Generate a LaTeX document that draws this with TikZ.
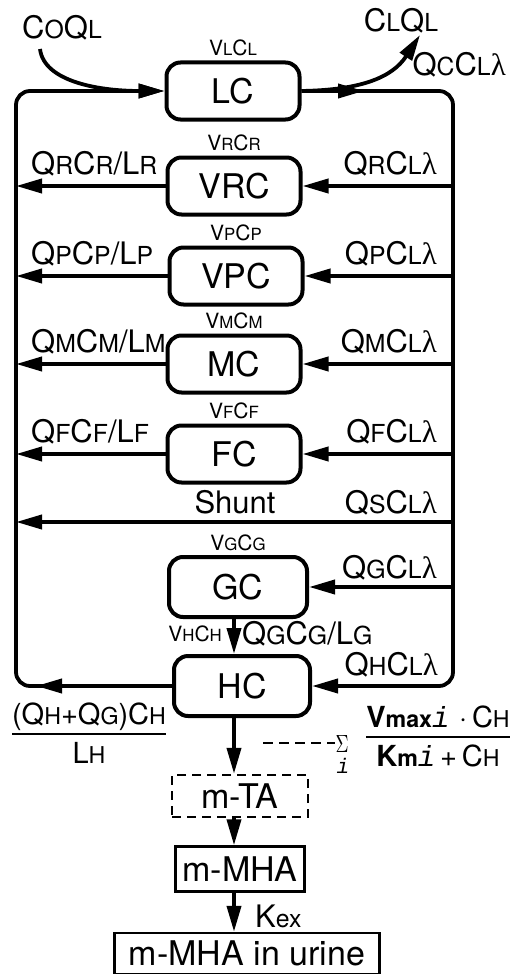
\documentclass[tikz,border=0pt]{standalone}
\usepackage{graphicx}
\usepackage{fontspec}
\setmainfont{TeX Gyre Heros}
\newfontfamily\greekf{Liberation Serif}
\newfontfamily\monof{Liberation Mono}
\usetikzlibrary{arrows.meta,calc}

\newcommand\smc[1]{\scalebox{0.8}{#1}}
\newcommand\lam{{\greekf λ}}
\newcommand\ii{{\monof\itshape i}}
\newcommand\boxfont{\fontsize{34}{36}\selectfont}
\newcommand\labfont{\fontsize{31}{33}\selectfont}
\newcommand\fracfont{\fontsize{29}{31}\selectfont}
\newcommand\volfont{\fontsize{21}{23}\selectfont}

\tikzset{
  organ/.style={draw, line width=4pt, rounded corners=14pt, minimum width=133pt,
    minimum height=57pt, font=\boxfont, inner sep=0pt},
  flow/.style={line width=3.8pt, -{Triangle[length=26pt,width=14pt]}},
  lab/.style={font=\labfont, inner sep=0pt},
  vol/.style={font=\volfont, inner sep=0pt, anchor=base},
  sq/.style={draw, line width=2.4pt, font=\boxfont, inner sep=0pt, minimum height=44pt},
}

\begin{document}
\begin{tikzpicture}[x=1pt,y=-1pt]
\useasboundingbox (0,0) rectangle (509,974);
\coordinate (L) at (16,0);
\coordinate (R) at (453,0);
\coordinate (LL) at (31,0);
\coordinate (RR) at (437,0);

% organ boxes
\node[organ] (LC) at (233,91) {LC};
\node[organ] (VRC) at (234,186) {VRC};
\node[organ] (VPC) at (236,276) {VPC};
\node[organ] (MC) at (234,364) {MC};
\node[organ] (FC) at (234,454) {FC};
\node[organ, minimum width=138pt, minimum height=60pt] (GC) at (238,587) {GC};
\node[organ, minimum width=136pt, minimum height=60pt] (HC) at (242,686) {HC};

% volume labels
\node[vol] (vLC) at ([yshift=5pt]LC.north) {V\smc{L}C\smc{L}};
\node[vol] (vRC) at ([yshift=5pt]VRC.north) {V\smc{R}C\smc{R}};
\node[vol] (vPC) at ([yshift=5pt]VPC.north) {V\smc{P}C\smc{P}};
\node[vol] (vMC) at ([yshift=5pt]MC.north) {V\smc{M}C\smc{M}};
\node[vol] (vFC) at ([yshift=5pt]FC.north) {V\smc{F}C\smc{F}};
\node[vol] (vGC) at ([yshift=5pt]GC.north) {V\smc{G}C\smc{G}};
\node[vol, anchor=base east] (vHC) at (222,641) {V\smc{H}C\smc{H}};

% main loop
\draw[flow, rounded corners=14pt] (HC.west) -- (HC.west -| L) -- (LC.west -| L) -- (LC.west);
\coordinate (hcl) at (36,686);
\draw[flow] (HC.west) -- (hcl);
\draw[flow, rounded corners=14pt] (LC.east) -- (LC.east -| R) -- (HC.east -| R) -- (HC.east);
\coordinate (lcr) at (364,91);
\draw[flow] (LC.east) -- (lcr);

% inflow / outflow at top
\node[lab, anchor=base] (co) at (62,38) {C\smc{O}Q\smc{L}};
\coordinate (coS) at (40,49);
\draw[flow] (coS) .. controls (44,82) and (100,91) .. (LC.west);
\node[lab, anchor=base] (cl) at (401,32) {C\smc{L}Q\smc{L}};
\coordinate (clE) at (420,35);
\draw[flow] (LC.east) .. controls (360,90) and (392,78) .. (clE);
\node[lab, anchor=base east] (qc) at (506,75) {Q\smc{C}C\smc{L}\lam};

% side branches
\foreach \n/\s in {VRC/R, VPC/P, MC/M, FC/F}{
  \draw[flow] (\n.west) -- (\n.west -| L);
  \draw[flow] (\n.east -| R) -- (\n.east);
  \node[lab, anchor=base west] (out\n) at ($(\n.west -| LL)+(0,-12)$) {Q\smc{\s}C\smc{\s}/L\smc{\s}};
  \node[lab, anchor=base east] (in\n) at ($(\n.east -| RR)+(0,-12)$) {Q\smc{\s}C\smc{L}\lam};
}

% shunt
\coordinate (shR) at (453,522);
\coordinate (shL) at (16,522);
\draw[flow] (shR) -- (shL);
\node[lab, anchor=base] (shunt) at (235,513) {Shunt};
\node[lab, anchor=base east] (qS) at (437,513) {Q\smc{S}C\smc{L}\lam};

% gut and liver
\draw[flow] (GC.east -| R) -- (GC.east);
\node[lab, anchor=base east] (qG) at (437,578) {Q\smc{G}C\smc{L}\lam};
\coordinate (vx) at (234,0);
\draw[flow] (GC.south -| vx) -- (HC.north -| vx);
\node[lab, anchor=base west] (qGG) at (242,644) {Q\smc{G}C\smc{G}/L\smc{G}};
\node[lab, anchor=base east] (qH) at (438,675) {Q\smc{H}C\smc{L}\lam};

% liver outflow term
\node[inner sep=0pt, font=\fracfont] (fl) at (89,738) {\setlength{\arrayrulewidth}{2pt}%
  \begin{tabular}{@{}c@{}}(Q\smc{H}+Q\smc{G})C\smc{H}\\[-1pt]\hline
  \rule{0pt}{29pt}L\smc{H}\end{tabular}};

% metabolism
\node[draw, dash pattern=on 9pt off 6pt, line width=2.4pt, font=\boxfont, inner sep=0pt,
  minimum width=136pt, minimum height=42pt] (mTA) at (240,796) {m-TA};
\draw[flow] (HC.south -| vx) -- (mTA.north -| vx);
\node[inner sep=0pt, anchor=base] (sig) at (342,752) {\resizebox{13pt}{17pt}{$\Sigma$}};
\node[inner sep=0pt, font=\volfont, anchor=base] (sigi) at (343,773) {\ii};
\coordinate (dashL) at (263,743);
\draw[line width=2.6pt, dash pattern=on 10pt off 6pt] (dashL) -- (dashL -| sig.west);
\node[inner sep=0pt, font=\fracfont] (fr) at (438,741) {\setlength{\arrayrulewidth}{2pt}%
  \begin{tabular}{@{}c@{}}\textbf{V}\smc{\textbf{max}}\ii\,\,·\,C\smc{H}\\[-1pt]\hline
  \rule{0pt}{29pt}\textbf{K}\smc{\textbf{m}}\ii\,+\,C\smc{H}\end{tabular}};

\node[sq, minimum width=129pt, minimum height=45pt] (mMHA) at (240,869) {m-MHA};
\draw[flow] (mTA.south -| vx) -- (mMHA.north -| vx);
\node[sq, minimum width=265pt, minimum height=41pt] (urine) at (247,953.5) {m-MHA in urine};
\draw[flow] (mMHA.south -| vx) -- (urine.north -| vx);
\node[lab, anchor=base west] (kex) at (255,927) {K\smc{ex}};
\end{tikzpicture}
\end{document}
